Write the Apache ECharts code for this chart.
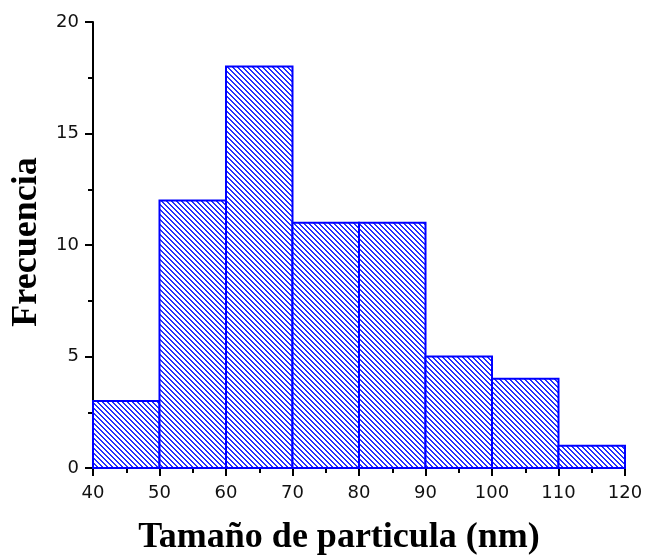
<!DOCTYPE html>
<html>
<head>
<meta charset="utf-8">
<script src="https://cdn.jsdelivr.net/npm/echarts@6/dist/echarts.min.js"></script>
<style>
  html, body { margin: 0; padding: 0; background: #fff; }
  #chart { width: 647px; height: 556px; }
</style>
</head>
<body>
<div id="chart"></div>
<script>
// Histogram bins (nm) and counts
const binStarts = [40, 50, 60, 70, 80, 90, 100, 110];
const binWidth = 10;
const counts = [3, 12, 18, 11, 11, 5, 4, 1];

const xTitle = 'Tamaño de particula (nm)';
const yTitle = 'Frecuencia';

// Diagonal hatch tile for the bar fill
function makeHatch() {
  const p = 5;
  const c = document.createElement('canvas');
  c.width = p; c.height = p;
  const ctx = c.getContext('2d');
  ctx.fillStyle = '#ffffff';
  ctx.fillRect(0, 0, p, p);
  ctx.fillStyle = '#2430ff';
  for (let y = 0; y < p; y++) {
    for (let x = 0; x < p; x++) {
      const d = ((x - y) % p + p) % p;
      if (d === 0 || d === 1) ctx.fillRect(x, y, 1, 1);
    }
  }
  return c;
}
const hatch = makeHatch();

const data = binStarts.map((s, i) => [s, s + binWidth, counts[i]]);

const chart = echarts.init(document.getElementById('chart'));
const axisText = { color: '#111', fontFamily: 'DejaVu Sans, sans-serif', fontSize: 18 };
const titleFont = { fontFamily: 'Liberation Serif, Times New Roman, serif', fontWeight: 'bold', fontSize: 36, color: '#000' };

chart.setOption({
  animation: false,
  grid: { left: 93, right: 22, top: 22, bottom: 88, containLabel: false, outerBoundsMode: 'none' },
  xAxis: {
    type: 'value', min: 40, max: 120, interval: 10,
    name: xTitle, nameLocation: 'middle', nameGap: 52,
    nameTextStyle: Object.assign({ padding: [0, 40, 0, 0] }, titleFont),
    axisLine: { show: true, onZero: false, lineStyle: { color: '#000', width: 2 } },
    axisTick: { show: true, inside: false, length: 8, lineStyle: { color: '#000', width: 2 } },
    minorTick: { show: true, splitNumber: 2, length: 5, lineStyle: { color: '#000', width: 2 } },
    axisLabel: Object.assign({ margin: 16 }, axisText),
    splitLine: { show: false }
  },
  yAxis: {
    type: 'value', min: 0, max: 20, interval: 5,
    name: yTitle, nameLocation: 'middle', nameGap: 46,
    nameTextStyle: Object.assign({ padding: [0, 0, 0, 6] }, titleFont),
    axisLine: { show: true, onZero: false, lineStyle: { color: '#000', width: 2 } },
    axisTick: { show: true, inside: false, length: 8, lineStyle: { color: '#000', width: 2 } },
    minorTick: { show: true, splitNumber: 2, length: 5, lineStyle: { color: '#000', width: 2 } },
    axisLabel: Object.assign({ margin: 14 }, axisText),
    splitLine: { show: false }
  },
  series: [{
    type: 'custom',
    data: data,
    encode: { x: [0, 1], y: 2 },
    renderItem: function (params, api) {
      const p0 = api.coord([api.value(0), api.value(2)]);
      const p1 = api.coord([api.value(1), 0]);
      return {
        type: 'rect',
        shape: { x: p0[0], y: p0[1], width: p1[0] - p0[0], height: p1[1] - p0[1] },
        style: {
          fill: { image: hatch, repeat: 'repeat' },
          stroke: '#0000ff',
          lineWidth: 2
        }
      };
    },
    z: 1
  }]
});
</script>
</body>
</html>
